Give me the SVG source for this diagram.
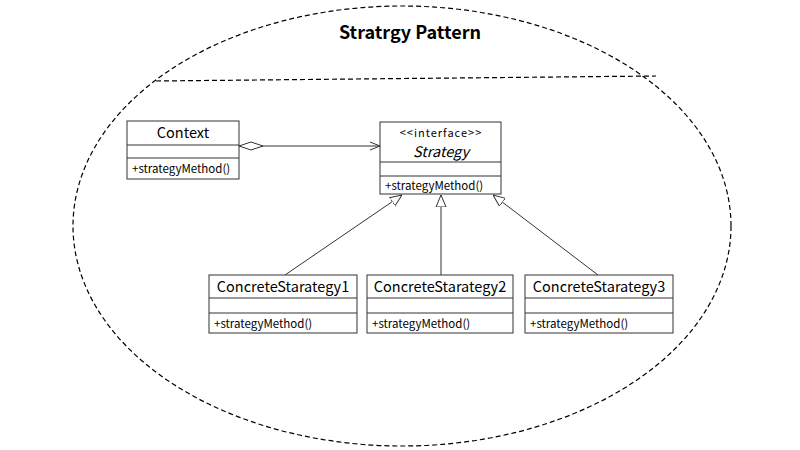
<svg xmlns="http://www.w3.org/2000/svg" width="800" height="450" viewBox="0 0 800 450">
<style>
.box{fill:#fff;stroke:#333;stroke-width:1}
.sep{stroke:#333;stroke-width:1}
.name{font-family:"Noto Sans CJK KR","Noto Sans",sans-serif;font-size:14.5px;fill:#000;text-anchor:middle}
.meth{font-family:"Noto Sans CJK KR","Noto Sans",sans-serif;font-size:11.5px;fill:#000}
.stereo{font-family:"Noto Sans CJK KR","Noto Sans",sans-serif;font-size:11px;fill:#000;text-anchor:middle;letter-spacing:1px}
.conn{stroke:#333;stroke-width:1;fill:none}
.dash{stroke:#000;stroke-width:1.2;fill:none;stroke-dasharray:5,3}
</style>
<defs>
<marker id="tri" viewBox="0 0 12 12" refX="12" refY="6" markerWidth="12" markerHeight="12" markerUnits="userSpaceOnUse" orient="auto">
<path d="M0,1 L12,6 L0,11 Z" fill="#fff" stroke="#333"/>
</marker>
<marker id="open" viewBox="0 0 10 10" refX="10" refY="5" markerWidth="10" markerHeight="10" markerUnits="userSpaceOnUse" orient="auto">
<path d="M0,1 L10,5 L0,9" fill="none" stroke="#333"/>
</marker>
<marker id="dia" viewBox="0 0 24 10" refX="0" refY="5" markerWidth="24" markerHeight="10" markerUnits="userSpaceOnUse" orient="auto">
<path d="M0,5 L12,1 L24,5 L12,9 Z" fill="#fff" stroke="#333"/>
</marker>
</defs>
<g id="frame">
<ellipse cx="402" cy="226" rx="329" ry="220" class="dash"/>
<line x1="156" y1="81" x2="656" y2="76" class="dash"/>
<text x="410" y="39" font-family="'Noto Sans CJK KR','Noto Sans',sans-serif" font-size="18" font-weight="bold" text-anchor="middle">Stratrgy Pattern</text>
</g>
<g id="connectors">
<line x1="239" y1="146" x2="380" y2="146" class="conn" marker-start="url(#dia)" marker-end="url(#open)"/>
<line x1="285" y1="275" x2="402" y2="195" class="conn" marker-end="url(#tri)"/>
<line x1="441" y1="275" x2="441" y2="195" class="conn" marker-end="url(#tri)"/>
<line x1="598" y1="275" x2="493" y2="195" class="conn" marker-end="url(#tri)"/>
</g>
<g id="context">
<rect x="127" y="121" width="112" height="58" class="box"/>
<line x1="127" y1="145" x2="239" y2="145" class="sep"/>
<line x1="127" y1="158" x2="239" y2="158" class="sep"/>
<text x="183" y="138" class="name">Context</text>
<text x="132" y="173" class="meth">+strategyMethod()</text>
</g>
<g id="strategy">
<rect x="380" y="122" width="121" height="72" class="box"/>
<line x1="380" y1="162" x2="501" y2="162" class="sep"/>
<line x1="380" y1="176" x2="501" y2="176" class="sep"/>
<text x="441" y="137" class="stereo">&lt;&lt;interface&gt;&gt;</text>
<text x="441" y="157" class="name" font-style="italic">Strategy</text>
<text x="385" y="190" class="meth">+strategyMethod()</text>
</g>
<g id="cs1">
<rect x="209" y="275" width="148" height="58" class="box"/>
<line x1="209" y1="298" x2="357" y2="298" class="sep"/>
<line x1="209" y1="313" x2="357" y2="313" class="sep"/>
<text x="283" y="292" class="name">ConcreteStarategy1</text>
<text x="214" y="328" class="meth">+strategyMethod()</text>
</g>
<g id="cs2">
<rect x="367" y="275" width="146" height="58" class="box"/>
<line x1="367" y1="298" x2="513" y2="298" class="sep"/>
<line x1="367" y1="313" x2="513" y2="313" class="sep"/>
<text x="440" y="292" class="name">ConcreteStarategy2</text>
<text x="372" y="328" class="meth">+strategyMethod()</text>
</g>
<g id="cs3">
<rect x="525" y="275" width="148" height="58" class="box"/>
<line x1="525" y1="298" x2="673" y2="298" class="sep"/>
<line x1="525" y1="313" x2="673" y2="313" class="sep"/>
<text x="599" y="292" class="name">ConcreteStarategy3</text>
<text x="530" y="328" class="meth">+strategyMethod()</text>
</g>
</svg>
